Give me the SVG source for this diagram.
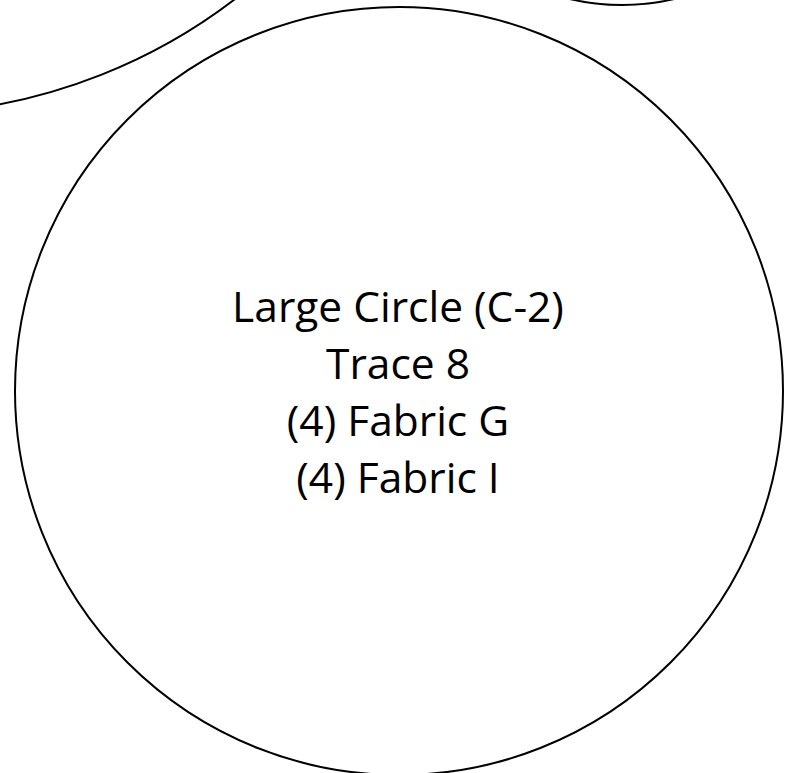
<svg xmlns="http://www.w3.org/2000/svg" width="793" height="773" viewBox="0 0 793 773">
<style>
.shape{fill:none;stroke:#000;stroke-width:2}
.label{font-family:"Open Sans","Noto Sans",sans-serif;font-size:42.5px;fill:#000;text-anchor:middle}
</style>
<rect x="0" y="0" width="793" height="773" fill="#fff"/>
<g id="circle-top-left"><circle class="shape" cx="-104" cy="-443" r="557"/></g>
<g id="circle-top-right"><circle class="shape" cx="622" cy="-225" r="230"/></g>
<g id="large-circle">
<circle class="shape" cx="399" cy="391" r="384"/>
<text class="label" x="398" y="322">Large Circle (C-2)</text>
<text class="label" x="398" y="379">Trace 8</text>
<text class="label" x="398" y="436">(4) Fabric G</text>
<text class="label" x="398" y="493">(4) Fabric I</text>
</g>
<g id="connectors"/>
</svg>
